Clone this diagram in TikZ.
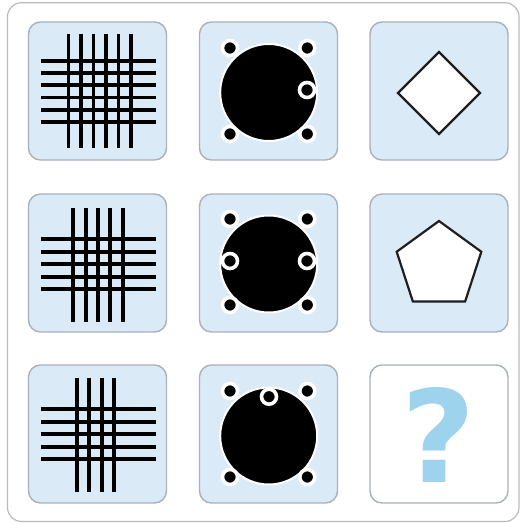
\documentclass[tikz,border=0pt]{standalone}
\usepackage{fontspec}
\newfontfamily\qfont{DejaVu Sans}
\usetikzlibrary{shapes.geometric,positioning}

\definecolor{tilefill}{HTML}{DBEAF7}
\definecolor{tileedge}{HTML}{A9B1B9}
\definecolor{framegray}{HTML}{BBBBBB}
\definecolor{qblue}{HTML}{9DD3EC}

\begin{document}
\begin{tikzpicture}[
        x=1pt, y=-1pt,
        % Style cho khung ngoài và các ô
        frame/.style={draw=framegray, line width=1.2pt, rounded corners=14pt},
        tile/.style={rectangle, draw=tileedge, line width=1.4pt, fill=tilefill, rounded corners=12pt, minimum size=138pt, inner sep=0pt},
        blank/.style={tile, fill=white},
        % Style cho các nét lưới
        bar/.style={line width=3.9pt, black},
        % Style cho hình tròn lớn và các chấm nhỏ
        ball/.style={circle, fill=black, draw=white, line width=2pt, minimum size=97pt, inner sep=0pt},
        dot/.style={circle, fill=black, draw=white, line width=3.6pt, minimum size=15pt, inner sep=0pt},
        % Style cho các đa giác
        poly/.style={draw=black!88, fill=white, line width=2.2pt, inner sep=0pt}
    ]

        \useasboundingbox (0,0) rectangle (520,523);

        % 1. Khung ngoài
        \draw[frame] (7.5,2.7) rectangle (519,521.5);

        % 2. Các ô (3 x 3)
        \node[tile] (t11) at (97.5,91) {};
        \node[tile] (t12) at (268.5,91) {};
        \node[tile] (t13) at (439,91) {};
        \node[tile] (t21) at (97.5,263) {};
        \node[tile] (t22) at (268.5,263) {};
        \node[tile] (t23) at (439,263) {};
        \node[tile] (t31) at (97.5,434) {};
        \node[tile] (t32) at (268.5,434) {};
        \node[blank] (t33) at (439,434) {};

        % 3. Cột 1: lưới các nét
        % Hàng 1: 6 dọc, 6 ngang
        \foreach \i in {0,...,5} \draw[bar] (68.5+12.5*\i,33.5) -- ++(0,114);
        \foreach \i in {0,...,5} \draw[bar] (41,60.7+12.25*\i) -- ++(115,0);
        % Hàng 2: 5 dọc, 5 ngang
        \foreach \i in {0,...,4} \draw[bar] (73.3+12.35*\i,207.7) -- ++(0,114);
        \foreach \i in {0,...,4} \draw[bar] (41,239.3+12.5*\i) -- ++(115,0);
        % Hàng 3: 4 dọc, 5 ngang
        \foreach \i in {0,...,3} \draw[bar] (76.7+12.5*\i,377.7) -- ++(0,114);
        \foreach \i in {0,...,4} \draw[bar] (41,409.3+12.5*\i) -- ++(115,0);

        % 4. Cột 2: hình tròn lớn với các chấm
        \node[ball] (b1) at (268.7,92.5) {};
        \node[ball] (b2) at (268.7,264) {};
        \node[ball] (b3) at (268.7,436) {};
        \foreach \r/\cy in {1/91, 2/262, 3/434} {
            \node[dot] (d\r nw) at (230,\cy-43) {};
            \node[dot] (d\r ne) at (307.3,\cy-43) {};
            \node[dot] (d\r sw) at (230,\cy+43) {};
            \node[dot] (d\r se) at (307.3,\cy+43) {};
        }
        % Chấm rỗng trên hình tròn
        \node[dot] (o1) at (307,90) {};
        \node[dot] (o2l) at (230,261) {};
        \node[dot] (o2r) at (307,261) {};
        \node[dot] (o3) at (269,396.7) {};

        % 5. Cột 3: đa giác và dấu hỏi
        \node[poly, diamond, minimum width=83pt, minimum height=83pt] (sq) at (439,93) {};
        \node[poly, regular polygon, regular polygon sides=5, minimum size=89pt] (pent) at (439,265.5) {};
        \node[text=qblue, inner sep=0pt, font=\qfont\bfseries\fontsize{128}{128}\selectfont] (q) at (438.5,434.5) {?};

    \end{tikzpicture}
\end{document}
